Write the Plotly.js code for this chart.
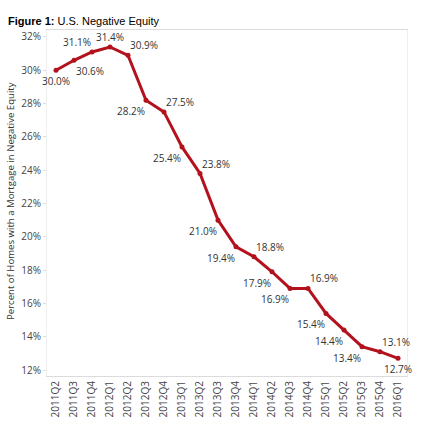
<!DOCTYPE html>
<html>
<head>
<meta charset="utf-8">
<script src="https://cdn.plot.ly/plotly-3.0.1.min.js"></script>
<style>html,body{margin:0;padding:0;background:#fff;}#chart{width:442px;height:432px;}</style>
</head>
<body>
<div id="chart"></div>
<script>
const quarters = ["2011Q2","2011Q3","2011Q4","2012Q1","2012Q2","2012Q3","2012Q4","2013Q1","2013Q2","2013Q3","2013Q4","2014Q1","2014Q2","2014Q3","2014Q4","2015Q1","2015Q2","2015Q3","2015Q4","2016Q1"];
const negativeEquity = [30.0,30.6,31.1,31.4,30.9,28.2,27.5,25.4,23.8,21.0,19.4,18.8,17.9,16.9,16.9,15.4,14.4,13.4,13.1,12.7];
const labelPositions = ["bottom center","bottom right","top left","top center","top right","bottom left","top right","bottom left","top right","bottom left","bottom left","top right","bottom left","bottom left","top right","bottom left","bottom left","bottom left","top right","bottom center"];

const lineColor = "#b3121d";

const trace = {
  x: quarters,
  y: negativeEquity,
  type: "scatter",
  mode: "lines+markers",
  line: {color: lineColor, width: 3},
  marker: {color: lineColor, size: 5},
  cliponaxis: false,
  hoverinfo: "x+y"
};

// data labels as annotations anchored to each data point
const labelAnnotations = quarters.map((q, i) => {
  const pos = labelPositions[i].split(" ");
  const vert = pos[0], horiz = pos[1];
  return {
    x: q, y: negativeEquity[i], xref: "x", yref: "y",
    text: negativeEquity[i].toFixed(1) + "%",
    showarrow: false,
    xanchor: horiz === "left" ? "right" : (horiz === "right" ? "left" : "center"),
    yanchor: "middle",
    xshift: horiz === "left" ? 1 : 0,
    yshift: vert === "top" ? 10 : -11,
    font: {family: "Open Sans", size: 10, color: "#333333"}
  };
});

const layout = {
  width: 442, height: 432,
  margin: {l: 47, r: 35, t: 30, b: 56, pad: 0},
  paper_bgcolor: "#ffffff",
  plot_bgcolor: "#ffffff",
  showlegend: false,
  title: {
    text: "<b>Figure 1:</b> U.S. Negative Equity",
    xref: "container", yref: "container",
    x: 8/442, xanchor: "left",
    y: 1 - 21/432, yanchor: "middle",
    font: {family: "Liberation Sans, Arial, sans-serif", size: 11, color: "#000000"}
  },
  xaxis: {
    type: "category",
    range: [-0.5, 19.5],
    tickangle: -90,
    tickfont: {family: "Open Sans", size: 10, color: "#444444"},
    showgrid: false,
    zeroline: false,
    showline: true,
    linecolor: "#dcdcdc",
    linewidth: 1,
    mirror: true,
    ticks: "",
    ticklen: 0
  },
  yaxis: {
    range: [11.64, 32.42],
    dtick: 2,
    tick0: 12,
    ticksuffix: "%",
    tickfont: {family: "Open Sans", size: 10, color: "#444444"},
    showgrid: false,
    zeroline: false,
    showline: true,
    linecolor: "#eeeeee",
    linewidth: 1,
    mirror: true,
    ticks: "outside",
    ticklen: 3,
    tickcolor: "#dddddd"
  },
  annotations: labelAnnotations.concat([{
    text: "Percent of Homes with a Mortgage in Negative Equity",
    xref: "paper", yref: "paper",
    x: 0, y: 0.5, xshift: -37, yshift: 2,
    xanchor: "center", yanchor: "middle",
    textangle: -90,
    showarrow: false,
    font: {family: "Open Sans", size: 9.6, color: "#333333"}
  }])
};

Plotly.newPlot("chart", [trace], layout, {displayModeBar: false, staticPlot: true});
</script>
</body>
</html>
